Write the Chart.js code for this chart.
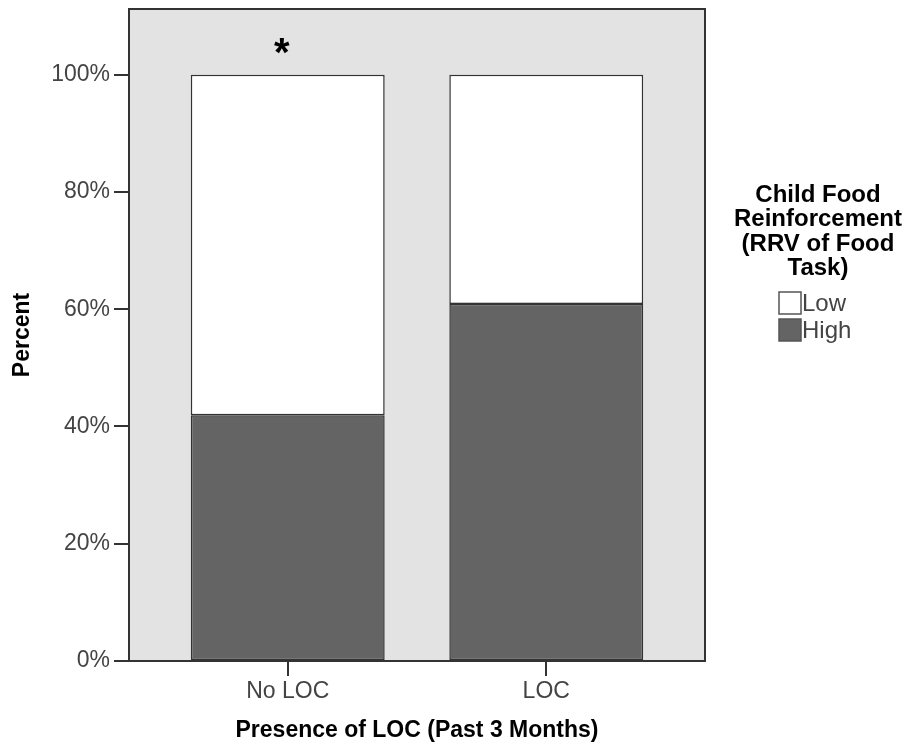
<!DOCTYPE html>
<html>
<head>
<meta charset="utf-8">
<script src="https://cdn.jsdelivr.net/npm/chart.js@4.4.1/dist/chart.umd.min.js"></script>
<style>
  html, body { margin: 0; padding: 0; background: #ffffff; }
  #wrap { width: 908px; height: 747px; }
</style>
</head>
<body>
<div id="wrap"><canvas id="chart" width="908" height="747"></canvas></div>
<script>
// Groups on the x axis
const categories = ['No LOC', 'LOC'];
// Percent of children with high / low food reinforcement in each group
const highPct = [41.9, 60.9];
const lowPct = [58.1, 39.1];
// Y-axis tick values (percent)
const yTicks = [0, 20, 40, 60, 80, 100];
// Significance marks drawn above each bar
const sigMarks = ['*', ''];
// Legend heading, one entry per line
const legendTitle = ['Child Food', 'Reinforcement', '(RRV of Food', 'Task)'];
const xTitle = 'Presence of LOC (Past 3 Months)';
const yTitle = 'Percent';

const FONT = "'Liberation Sans', Arial, Helvetica, sans-serif";
const AXIS_COLOR = '#333333';
const TICK_TEXT = '#444444';

// Shaded plot panel with a frame on the top and right edges
const panelPlugin = {
  id: 'panel',
  beforeDraw(chart) {
    const { ctx, chartArea: a } = chart;
    ctx.save();
    ctx.fillStyle = '#e3e3e3';
    ctx.fillRect(a.left, a.top, a.right - a.left, a.bottom - a.top);
    ctx.restore();
  },
  afterDraw(chart) {
    const { ctx, chartArea: a } = chart;
    ctx.save();
    ctx.strokeStyle = AXIS_COLOR;
    ctx.lineWidth = 2;
    ctx.beginPath();
    ctx.moveTo(a.left, a.top);
    ctx.lineTo(a.right, a.top);
    ctx.lineTo(a.right, a.bottom);
    ctx.stroke();
    ctx.restore();
  }
};

// Significance asterisks above the stacked bars
const sigPlugin = {
  id: 'sigMarks',
  afterDatasetsDraw(chart) {
    const { ctx, scales } = chart;
    ctx.save();
    ctx.fillStyle = '#000000';
    ctx.font = 'bold 40px ' + FONT;
    ctx.textAlign = 'center';
    ctx.textBaseline = 'alphabetic';
    sigMarks.forEach((m, i) => {
      if (!m) return;
      const total = highPct[i] + lowPct[i];
      const x = scales.x.getPixelForValue(i + 1) - 6;
      const y = scales.y.getPixelForValue(total) - 9;
      ctx.fillText(m, x, y);
    });
    ctx.restore();
  }
};

// Legend on the right: multi-line heading, then one swatch per series (top segment first)
const sideLegendPlugin = {
  id: 'sideLegend',
  afterDraw(chart) {
    const { ctx, chartArea: a } = chart;
    const cx = a.right + 113;
    ctx.save();
    ctx.fillStyle = '#000000';
    ctx.font = 'bold 24px ' + FONT;
    ctx.textAlign = 'center';
    ctx.textBaseline = 'middle';
    legendTitle.forEach((line, i) => {
      ctx.fillText(line, cx, 195 + i * 24.5);
    });
    const items = chart.data.datasets.slice().reverse();
    const boxX = cx - 39;
    items.forEach((ds, i) => {
      const yc = 303 + i * 27;
      ctx.fillStyle = ds.backgroundColor;
      ctx.fillRect(boxX, yc - 11, 22, 22);
      ctx.strokeStyle = '#555555';
      ctx.lineWidth = 1.5;
      ctx.strokeRect(boxX, yc - 11, 22, 22);
      ctx.fillStyle = TICK_TEXT;
      ctx.font = '24px ' + FONT;
      ctx.textAlign = 'left';
      ctx.fillText(ds.label, boxX + 23, yc + 1);
    });
    ctx.restore();
  }
};

const toPoints = (vals) => vals.map((v, i) => ({ x: i + 1, y: v }));

new Chart(document.getElementById('chart'), {
  type: 'bar',
  data: {
    datasets: [
      {
        label: 'High',
        data: toPoints(highPct),
        backgroundColor: '#646464',
        borderColor: AXIS_COLOR,
        borderWidth: 1.5,
        borderSkipped: false
      },
      {
        label: 'Low',
        data: toPoints(lowPct),
        backgroundColor: '#ffffff',
        borderColor: AXIS_COLOR,
        borderWidth: 1.5,
        borderSkipped: false
      }
    ]
  },
  options: {
    responsive: false,
    animation: false,
    devicePixelRatio: 1,
    layout: { padding: { left: 0, top: 9, right: 203, bottom: 0 } },
    datasets: { bar: { categoryPercentage: 1, barPercentage: 0.75 } },
    plugins: {
      legend: { display: false },
      tooltip: { enabled: false }
    },
    scales: {
      x: {
        type: 'linear',
        stacked: true,
        offset: false,
        min: 0.386,
        max: 2.614,
        afterBuildTicks(scale) {
          scale.ticks = categories.map((c, i) => ({ value: i + 1 }));
        },
        afterFit(scale) {
          scale.height = 86;
          scale.paddingLeft = 0;
          scale.paddingRight = 0;
        },
        ticks: {
          autoSkip: false,
          maxRotation: 0,
          padding: 2,
          color: TICK_TEXT,
          font: { family: FONT, size: 23 },
          callback: (v) => categories[Math.round(v) - 1] ?? ''
        },
        grid: {
          offset: false,
          drawOnChartArea: false,
          drawTicks: true,
          tickLength: 15,
          color: AXIS_COLOR,
          lineWidth: 2
        },
        border: { display: true, color: AXIS_COLOR, width: 2 },
        title: {
          display: true,
          text: xTitle,
          color: '#000000',
          font: { family: FONT, size: 23, weight: 'bold' },
          padding: { top: 0, bottom: 3 }
        }
      },
      y: {
        stacked: true,
        min: 0,
        max: 111.2,
        afterBuildTicks(scale) {
          scale.ticks = yTicks.map((v) => ({ value: v }));
        },
        afterFit(scale) {
          scale.width = 129;
          scale.paddingTop = 0;
          scale.paddingBottom = 0;
        },
        ticks: {
          padding: 4,
          color: TICK_TEXT,
          font: { family: FONT, size: 23 },
          callback: (v) => v + '%'
        },
        grid: {
          drawOnChartArea: false,
          drawTicks: true,
          tickLength: 15,
          color: AXIS_COLOR,
          lineWidth: 2
        },
        border: { display: true, color: AXIS_COLOR, width: 2 },
        title: {
          display: true,
          text: yTitle,
          color: '#000000',
          font: { family: FONT, size: 23, weight: 'bold' },
          padding: { top: 9, bottom: 0 }
        }
      }
    }
  },
  plugins: [panelPlugin, sigPlugin, sideLegendPlugin]
});
</script>
</body>
</html>
